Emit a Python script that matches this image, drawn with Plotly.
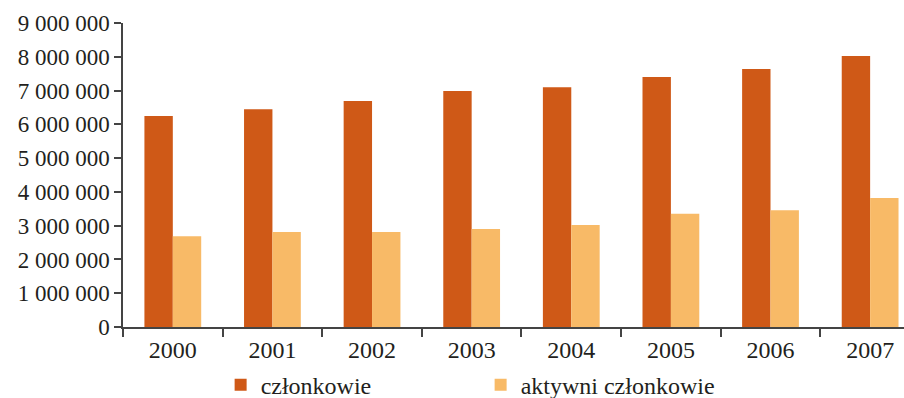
import plotly.graph_objects as go

years = ["2000", "2001", "2002", "2003", "2004", "2005", "2006", "2007"]
czlonkowie = [6250000, 6450000, 6690000, 6990000, 7100000, 7400000, 7640000, 8020000]
aktywni = [2690000, 2810000, 2810000, 2900000, 3020000, 3350000, 3460000, 3820000]

FONT = "Liberation Serif"
TXT = "#231F20"

fig = go.Figure()
fig.add_trace(go.Bar(x=years, y=czlonkowie, name="członkowie",
                     marker=dict(color="#CF5917", line=dict(width=0))))
fig.add_trace(go.Bar(x=years, y=aktywni, name="aktywni członkowie",
                     marker=dict(color="#F8BA67", line=dict(width=0))))

fig.update_layout(
    width=904, height=398,
    margin=dict(l=123, r=0, t=23, b=71, autoexpand=False),
    plot_bgcolor="white", paper_bgcolor="white",
    barmode="group", bargap=0.43, bargroupgap=0,
    separators=", ",
    font=dict(family=FONT, size=23, color=TXT),
    showlegend=True,
    legend=dict(orientation="h", x=0.125, xanchor="left", y=-0.117, yanchor="top",
                entrywidth=215, entrywidthmode="pixels",
                font=dict(family=FONT, size=24, color=TXT),
                itemclick=False, bgcolor="rgba(0,0,0,0)"),
)
fig.update_xaxes(type="category", range=[-0.5, 7.34], showline=True, linecolor="#444",
                 linewidth=1.5, ticks="outside", tickson="boundaries", ticklen=8,
                 tickcolor="#444", tickwidth=1.5, showgrid=False, zeroline=False,
                 tickfont=dict(family=FONT, size=24, color=TXT))
fig.update_yaxes(range=[0, 9000000], dtick=1000000, tickformat=",d", showline=True,
                 linecolor="#444", linewidth=1.5, ticks="outside", ticklen=7,
                 tickcolor="#444", tickwidth=1.5, showgrid=False, zeroline=False,
                 tickfont=dict(family=FONT, size=23, color=TXT))

fig.write_html("out.html")
